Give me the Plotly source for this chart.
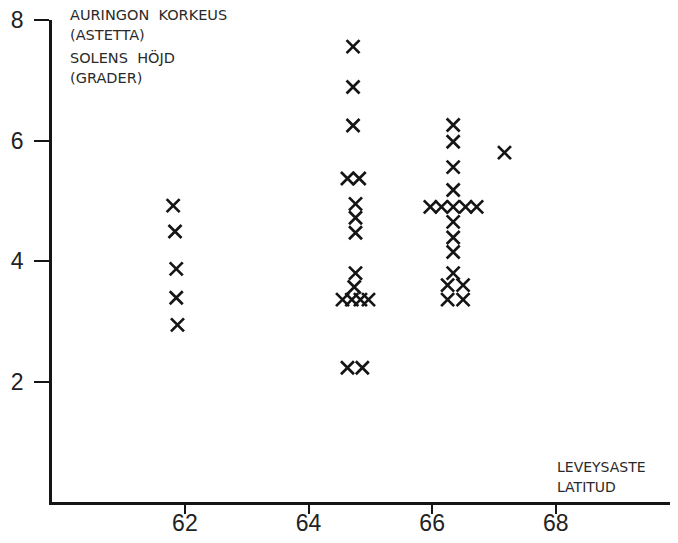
import plotly.graph_objects as go

# Latitude (degrees) and sun altitude (degrees)
latitude = [
    61.81, 61.84, 61.86, 61.86, 61.88,
    64.72, 64.72, 64.72,
    64.63, 64.82,
    64.76, 64.76, 64.76,
    64.76, 64.74,
    64.55, 64.70, 64.84, 64.97,
    64.63, 64.87,
    66.34, 66.34, 66.34, 66.34,
    65.97, 66.15, 66.34, 66.54, 66.72,
    66.34, 66.34, 66.34,
    66.34, 66.25, 66.25, 66.50, 66.50,
    67.17,
]
altitude = [
    4.92, 4.49, 3.87, 3.39, 2.94,
    7.56, 6.89, 6.25,
    5.37, 5.37,
    4.95, 4.72, 4.47,
    3.80, 3.57,
    3.36, 3.36, 3.36, 3.36,
    2.23, 2.23,
    6.26, 5.98, 5.56, 5.18,
    4.90, 4.90, 4.90, 4.90, 4.90,
    4.65, 4.39, 4.15,
    3.80, 3.60, 3.36, 3.60, 3.36,
    5.80,
]

x_ticks = [62, 64, 66, 68]
y_ticks = [2, 4, 6, 8]

y_title_lines = ["AURINGON  KORKEUS", "(ASTETTA)", "SOLENS  HÖJD", "(GRADER)"]
x_title_lines = ["LEVEYSASTE", "LATITUD"]

ink = "#151515"

fig = go.Figure(go.Scatter(
    x=latitude, y=altitude, mode="markers",
    marker=dict(symbol="x-thin", size=13, color=ink,
                line=dict(color=ink, width=2.7)),
    hoverinfo="x+y",
))

annotations = []
for txt, yp in zip(y_title_lines, [1.0104, 0.969, 0.923, 0.880]):
    annotations.append(dict(text=txt, xref="paper", yref="paper", x=0.0258, y=yp,
                            xanchor="left", yanchor="middle", showarrow=False,
                            font=dict(family="DejaVu Sans", size=14.5, color="#2a2a2a")))
for txt, yp in zip(x_title_lines, [0.0726, 0.031]):
    annotations.append(dict(text=txt, xref="paper", yref="paper", x=0.811, y=yp,
                            xanchor="left", yanchor="middle", showarrow=False,
                            font=dict(family="DejaVu Sans", size=14, color="#2a2a2a")))

# The page body adds an 8 px offset, so the figure is sized to the visible area.
fig.update_layout(
    width=670, height=535,
    margin=dict(l=44, r=6, t=12, b=41, autoexpand=False),
    paper_bgcolor="white", plot_bgcolor="white",
    showlegend=False,
    annotations=annotations,
    xaxis=dict(range=[59.85, 69.88], tickvals=x_ticks, ticktext=[str(v) for v in x_ticks],
               automargin=False, ticklabeloverflow="allow",
               showgrid=False, zeroline=False, showline=True, linecolor=ink, linewidth=2.6,
               ticks="outside", ticklen=9, tickwidth=2.4, tickcolor=ink,
               ticklabelstandoff=-10,
               tickfont=dict(family="Liberation Sans", size=23, color="#222")),
    yaxis=dict(range=[0, 8.002], tickvals=y_ticks, ticktext=[str(v) for v in y_ticks],
               automargin=False, ticklabeloverflow="allow",
               showgrid=False, zeroline=False, showline=True, linecolor=ink, linewidth=2.6,
               ticks="outside", ticklen=15, tickwidth=2.4, tickcolor=ink,
               ticklabelstandoff=6,
               tickfont=dict(family="Liberation Sans", size=23, color="#222")),
)

fig.write_html("out.html")
